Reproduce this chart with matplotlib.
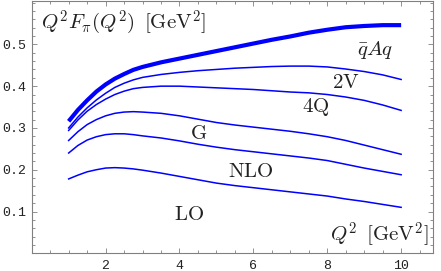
import matplotlib
matplotlib.use("Agg")
import matplotlib.pyplot as plt
from matplotlib.ticker import MultipleLocator

plt.rcParams['mathtext.fontset'] = 'cm'

q2 = [1.0, 1.25, 1.5, 1.75, 2.0, 2.25, 2.5, 2.75, 3.0, 3.5, 4.0, 4.5, 5.0, 5.5,
      6.0, 6.5, 7.0, 7.5, 8.0, 8.5, 9.0, 9.5, 10.0]
qAq = [0.316, 0.343, 0.366, 0.387, 0.404, 0.418, 0.429, 0.439, 0.446, 0.457, 0.466, 0.475,
       0.484, 0.493, 0.502, 0.511, 0.519, 0.528, 0.535, 0.541, 0.544, 0.546, 0.546]
v2 = [0.300, 0.326, 0.348, 0.367, 0.383, 0.397, 0.407, 0.415, 0.421, 0.428, 0.433, 0.437,
      0.440, 0.443, 0.445, 0.447, 0.448, 0.448, 0.446, 0.441, 0.435, 0.427, 0.416]
q4 = [0.294, 0.319, 0.340, 0.356, 0.369, 0.380, 0.388, 0.394, 0.397, 0.400, 0.400, 0.398,
      0.396, 0.394, 0.392, 0.389, 0.386, 0.384, 0.380, 0.374, 0.366, 0.355, 0.342]
g = [0.270, 0.291, 0.308, 0.320, 0.329, 0.335, 0.338, 0.339, 0.338, 0.335, 0.329, 0.321,
     0.313, 0.307, 0.302, 0.297, 0.292, 0.286, 0.279, 0.270, 0.259, 0.248, 0.237]
nlo = [0.240, 0.258, 0.271, 0.279, 0.284, 0.286, 0.286, 0.284, 0.281, 0.276, 0.269, 0.261,
       0.254, 0.248, 0.243, 0.238, 0.233, 0.228, 0.222, 0.213, 0.204, 0.196, 0.188]
lo = [0.178, 0.187, 0.195, 0.200, 0.204, 0.205, 0.204, 0.202, 0.199, 0.192, 0.184, 0.176,
      0.168, 0.162, 0.157, 0.152, 0.147, 0.142, 0.137, 0.130, 0.124, 0.117, 0.110]

labels = [r'$\bar{q}Aq$', r'$\mathrm{2V}$', r'$\mathrm{4Q}$', r'$\mathrm{G}$', r'$\mathrm{NLO}$', r'$\mathrm{LO}$']
label_x = [9.3, 8.49, 7.68, 4.51, 5.92, 4.25]
label_y = [0.486, 0.409, 0.349, 0.289, 0.198, 0.095]

fig = plt.figure(figsize=(4.41, 2.71), dpi=100)
ax = fig.add_axes([0.0719, 0.0653, 0.9106, 0.9307])

blue = (0, 0, 1)
ax.plot(q2, qAq, color=blue, lw=3.0, solid_capstyle='butt', solid_joinstyle='round')
for s in [v2, q4, g, nlo, lo]:
    ax.plot(q2, s, color=blue, lw=1.1, solid_joinstyle='round')

for t, x, y in zip(labels, label_x, label_y):
    ax.text(x, y, t, fontsize=15, ha='center', va='center', color='#222222')

ax.text(0.24, 0.551, r'$Q^2F_\pi(Q^2)\ \,[\mathrm{GeV}^2]$', fontsize=15,
        ha='left', va='center', color='#222222')
ax.text(10.73, 0.045, r'$Q^2\ \,[\mathrm{GeV}^2]$', fontsize=15,
        ha='right', va='center', color='#222222')

ax.set_xlim(0, 10.87)
ax.set_ylim(0, 0.6036)
ax.xaxis.set_minor_locator(MultipleLocator(0.5))
ax.yaxis.set_minor_locator(MultipleLocator(0.02))
ax.set_xticks([2, 4, 6, 8, 10])
ax.set_yticks([0.1, 0.2, 0.3, 0.4, 0.5])
ax.set_yticklabels(['0.1', '0.2', '0.3', '0.4', '0.5'])

for sp in ax.spines.values():
    sp.set_color('#808080')
    sp.set_linewidth(0.8)
ax.tick_params(which='both', direction='in', top=True, right=True, color='#808080', width=0.6)
ax.tick_params(which='major', length=3.5)
ax.tick_params(which='minor', length=2)
ax.tick_params(axis='both', labelsize=9.5, labelcolor='#222222')
ax.tick_params(axis='y', pad=4)
ax.tick_params(axis='x', pad=5)
for lab in ax.get_xticklabels() + ax.get_yticklabels():
    lab.set_fontfamily('Liberation Mono')

fig.savefig('out.png', dpi=100)
